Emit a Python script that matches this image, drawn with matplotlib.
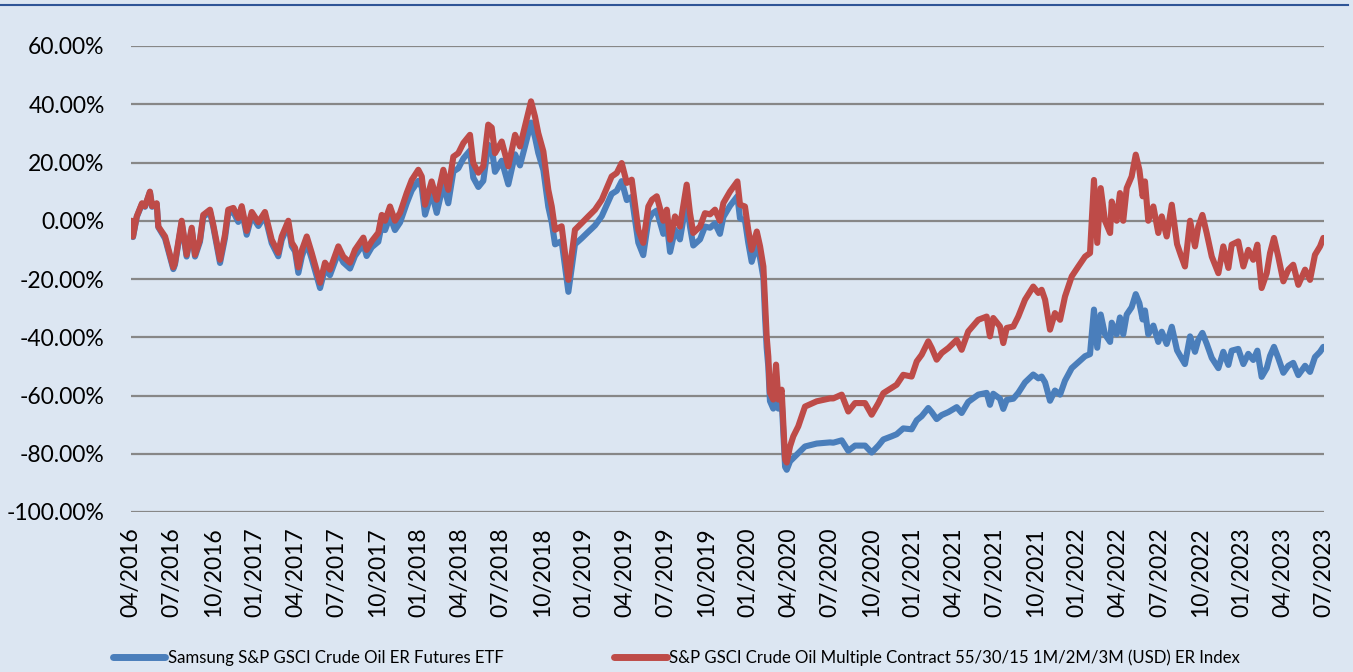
import matplotlib
matplotlib.use("Agg")
import matplotlib.pyplot as plt
from matplotlib.lines import Line2D

# decimal-year positions of the sampled points
t = [2016.254, 2016.262, 2016.285, 2016.317, 2016.335, 2016.365, 2016.378, 2016.406, 2016.416, 2016.457,
     2016.507, 2016.517, 2016.558, 2016.588, 2016.619, 2016.639, 2016.669, 2016.689, 2016.730, 2016.750,
     2016.791, 2016.821, 2016.841, 2016.872, 2016.902, 2016.923, 2016.953, 2016.984, 2017.024, 2017.064,
     2017.105, 2017.145, 2017.166, 2017.206, 2017.227, 2017.247, 2017.267, 2017.289, 2017.318, 2017.348,
     2017.399, 2017.429, 2017.459, 2017.510, 2017.540, 2017.581, 2017.611, 2017.662, 2017.682, 2017.713,
     2017.753, 2017.774, 2017.794, 2017.824, 2017.854, 2017.885, 2017.926, 2017.956, 2017.996, 2018.017,
     2018.037, 2018.077, 2018.108, 2018.148, 2018.178, 2018.209, 2018.239, 2018.270, 2018.310, 2018.330,
     2018.361, 2018.391, 2018.421, 2018.442, 2018.462, 2018.503, 2018.543, 2018.584, 2018.614, 2018.644,
     2018.681, 2018.705, 2018.725, 2018.756, 2018.786, 2018.807, 2018.827, 2018.867, 2018.908, 2018.948,
     2018.989, 2019.029, 2019.070, 2019.111, 2019.171, 2019.202, 2019.232, 2019.263, 2019.293, 2019.333,
     2019.363, 2019.394, 2019.416, 2019.445, 2019.485, 2019.506, 2019.526, 2019.556, 2019.586, 2019.627,
     2019.647, 2019.667, 2019.708, 2019.738, 2019.769, 2019.799, 2019.829, 2019.850, 2019.890, 2019.935,
     2019.951, 2019.981, 2020.001, 2020.022, 2020.053, 2020.073, 2020.093, 2020.103, 2020.113, 2020.123,
     2020.133, 2020.153, 2020.170, 2020.184, 2020.204, 2020.225, 2020.235, 2020.255, 2020.275, 2020.305,
     2020.346, 2020.417, 2020.498, 2020.518, 2020.569, 2020.609, 2020.650, 2020.711, 2020.751, 2020.792,
     2020.822, 2020.873, 2020.903, 2020.943, 2020.994, 2021.025, 2021.055, 2021.095, 2021.116, 2021.146,
     2021.177, 2021.217, 2021.268, 2021.298, 2021.338, 2021.399, 2021.450, 2021.470, 2021.490, 2021.531,
     2021.551, 2021.572, 2021.612, 2021.642, 2021.683, 2021.733, 2021.764, 2021.784, 2021.805, 2021.835,
     2021.865, 2021.896, 2021.926, 2021.967, 2022.007, 2022.048, 2022.078, 2022.102, 2022.122, 2022.143,
     2022.169, 2022.200, 2022.210, 2022.240, 2022.260, 2022.280, 2022.301, 2022.331, 2022.356, 2022.378,
     2022.398, 2022.412, 2022.432, 2022.463, 2022.493, 2022.514, 2022.544, 2022.575, 2022.607, 2022.631,
     2022.655, 2022.686, 2022.716, 2022.736, 2022.761, 2022.787, 2022.818, 2022.858, 2022.888, 2022.919,
     2022.939, 2022.979, 2023.010, 2023.040, 2023.070, 2023.095, 2023.121, 2023.152, 2023.172, 2023.196,
     2023.222, 2023.253, 2023.283, 2023.313, 2023.344, 2023.385, 2023.415, 2023.445, 2023.476, 2023.496]

# S&P GSCI Crude Oil Multiple Contract index (%)
index_ret = [0, -5.4, 1.5, 6, 5, 10, 5, 6, -2, -5.4,
             -16, -14.5, 0, -11.7, -2.4, -11.7, -6.5, 2, 3.8, -1.4,
             -13.4, -4.8, 3.8, 4.4, 0.9, 5, -3.5, 3, -0.5, 3,
             -6.5, -11, -5.4, 0, -7.5, -9.3, -16, -10, -5.4, -11,
             -21.3, -14.4, -16.8, -8.8, -12.3, -14.4, -10, -5.8, -10, -7,
             -4.1, 2, 0, 4.9, 0, 2.7, 9.6, 14, 17.5, 15.2,
             5.5, 13.5, 7.2, 17.5, 10.6, 22, 23.2, 26.7, 29.5, 19.8,
             16.5, 18.7, 33, 32, 23.2, 27.2, 18.7, 29.5, 25.5, 32.4,
             41, 35.8, 30.1, 23.8, 10.6, 4.9, -3.1, -1.9, -20.3, -3.1,
             -0.8, 1.5, 3.8, 7.2, 15.2, 16.4, 19.8, 13, 14.1, -3.1,
             -7.6, 4.9, 7.2, 8.4, 0, 3.8, -6.5, 1.5, -2, 12.4,
             2.6, -4.2, -2, 2.6, 2.2, 3.8, 0, 6.1, 10, 13.5,
             5.5, 4.9, -3.1, -10, -3.7, -8.8, -15.7, -28, -39.7, -46.6,
             -59, -61.4, -49.4, -61.4, -58, -82, -83, -77.5, -74, -70.6,
             -63.8, -62, -61, -61, -59.7, -65.5, -62.6, -62.6, -66.6, -62.6,
             -59.2, -57.4, -56.3, -52.9, -53.5, -48.3, -46, -41.4, -43.7, -47.7,
             -45.4, -43.7, -40.9, -44.3, -38, -34, -32.9, -39.7, -33.4, -36.3,
             -42, -36.8, -36.3, -32.9, -27.1, -22.6, -24.8, -23.7, -27.1, -37.4,
             -31.7, -34, -26, -19.1, -15.7, -12.3, -11.1, 14, -7.6, 11.2,
             0, -4.2, 6.6, 0, 9.5, 0, 11.2, 15.2, 22.7, 17.5,
             8.4, 13.5, 0, 4.9, -4.2, 1.5, -5.4, 5.5, -8, -12,
             -15.7, 0, -8.8, -2, 2, -4.2, -12.3, -18, -8.8, -16.2,
             -8.2, -7.1, -15.7, -10, -13.4, -8.2, -23.1, -18, -11.1, -5.9,
             -12.3, -20.8, -16.8, -15.1, -22, -16.8, -20.3, -11.7, -8.8, -5.9]

# Samsung S&P GSCI Crude Oil ER Futures ETF (%)
etf_ret = [-0.2, -5.6, 1.3, 5.8, 4.8, 9.8, 4.8, 5.8, -2.2, -6.1,
           -16.6, -15.1, -0.7, -12.3, -3.1, -12.3, -7.2, 1.3, 3.1, -2.1,
           -14.5, -6.0, 2.5, 3.0, -0.4, 3.6, -4.8, 1.7, -1.8, 1.7,
           -7.7, -12.2, -6.6, -1.3, -8.7, -10.5, -17.9, -12.1, -7.6, -13.0,
           -23.1, -16.4, -18.7, -10.9, -14.3, -16.4, -12.1, -8.0, -12.1, -9.1,
           -7.2, -1.3, -3.2, 1.5, -3.2, -0.6, 6.1, 10.4, 13.7, 11.5,
           2.1, 9.9, 2.7, 12.6, 6.0, 16.9, 18.0, 21.4, 24.1, 14.8,
           11.6, 13.7, 26.1, 25.1, 16.8, 20.6, 12.5, 22.8, 19.0, 25.5,
           33.7, 28.7, 23.3, 17.4, 4.8, -0.6, -8.1, -7.0, -24.4, -8.1,
           -6.0, -3.8, -1.6, 1.6, 9.2, 10.3, 13.6, 7.1, 8.2, -7.5,
           -11.8, 0.2, 2.4, 3.5, -4.5, -0.9, -10.7, -3.1, -6.4, 7.3,
           -2.0, -8.5, -6.4, -2.0, -2.4, -0.9, -4.5, 1.3, 5.1, 8.4,
           0.8, 0.2, -7.5, -14.1, -8.0, -12.9, -19.5, -32.7, -43.6, -50.1,
           -61.9, -64.5, -53.4, -64.5, -61.4, -84.5, -85.5, -82.6, -81.5, -79.8,
           -77.5, -76.5, -76.1, -76.2, -75.4, -79.0, -77.2, -77.2, -79.6, -77.2,
           -75.1, -74.0, -73.3, -71.3, -71.6, -68.5, -67.1, -64.3, -65.7, -68.1,
           -66.7, -65.7, -64.0, -66.0, -62.2, -59.7, -59.1, -63.2, -59.4, -61.1,
           -64.6, -61.5, -61.1, -59.1, -55.5, -52.8, -54.1, -53.5, -55.5, -61.8,
           -58.3, -59.7, -54.9, -50.6, -48.6, -46.5, -45.8, -30.5, -43.6, -32.2,
           -39.0, -41.6, -35.0, -39.0, -33.2, -39.0, -32.2, -29.7, -25.2, -28.3,
           -33.9, -30.8, -39.0, -36.0, -41.6, -38.1, -42.3, -36.4, -44.5, -46.9,
           -49.2, -39.7, -45.0, -40.9, -38.5, -42.2, -47.1, -50.6, -45.0, -49.5,
           -44.6, -44.0, -49.2, -45.7, -47.8, -44.6, -53.6, -50.6, -46.4, -43.3,
           -47.1, -52.2, -49.8, -48.8, -53.0, -49.8, -51.9, -46.8, -45.0, -43.3]

tick_pos = [2016.25 + 0.25 * i for i in range(30)]
tick_labels = ["04/2016", "07/2016", "10/2016",
               "01/2017", "04/2017", "07/2017", "10/2017",
               "01/2018", "04/2018", "07/2018", "10/2018",
               "01/2019", "04/2019", "07/2019", "10/2019",
               "01/2020", "04/2020", "07/2020", "10/2020",
               "01/2021", "04/2021", "07/2021", "10/2021",
               "01/2022", "04/2022", "07/2022", "10/2022",
               "01/2023", "04/2023", "07/2023"]
y_ticks = [-100, -80, -60, -40, -20, 0, 20, 40, 60]
series_names = ["Samsung S&P GSCI Crude Oil ER Futures ETF",
                "S&P GSCI Crude Oil Multiple Contract 55/30/15 1M/2M/3M (USD) ER Index"]

BG = "#DCE6F2"
BLUE = "#4A7EBB"
RED = "#BE4B48"
FONT = "Lato"

fig = plt.figure(figsize=(13.53, 6.72), dpi=100, facecolor=BG)
ax = fig.add_axes([131 / 1353, 160 / 672, (1324 - 131) / 1353, (626 - 160) / 672])
ax.set_facecolor(BG)

for yv in y_ticks:
    ax.axhline(yv, color="#878787", lw=1.6, zorder=1)

ax.plot(t, etf_ret, color=BLUE, lw=4.4, solid_joinstyle="round", solid_capstyle="round", zorder=3)
ax.plot(t, index_ret, color=RED, lw=4.4, solid_joinstyle="round", solid_capstyle="round", zorder=4)

ax.set_xlim(2016.25, 2023.5)
ax.set_ylim(-100, 60)
ax.set_yticks(y_ticks)
ax.set_yticklabels([f"{v:.2f}%" for v in y_ticks], fontfamily=FONT, fontsize=16.5)
ax.set_xticks(tick_pos)
ax.set_xticklabels(tick_labels, rotation=90, fontfamily=FONT, fontsize=16.5)
ax.tick_params(axis="y", length=0, pad=19)
ax.tick_params(axis="x", length=0, pad=11)
for s in ax.spines.values():
    s.set_visible(False)

handles = [Line2D([], [], color=BLUE, lw=5, solid_capstyle="round"),
           Line2D([], [], color=RED, lw=5, solid_capstyle="round")]
fig.legend(handles, series_names, loc="center", bbox_to_anchor=(0.5, 14.5 / 672), ncol=2,
           frameon=False, prop={"family": FONT, "size": 12.1}, handlelength=3.1,
           handletextpad=0.15, columnspacing=6.6)

fig.add_artist(Line2D([0, 1348 / 1353], [667 / 672, 667 / 672], transform=fig.transFigure,
                      color="#2F5597", lw=1.5))

fig.savefig("out.png", dpi=100, facecolor=BG)
